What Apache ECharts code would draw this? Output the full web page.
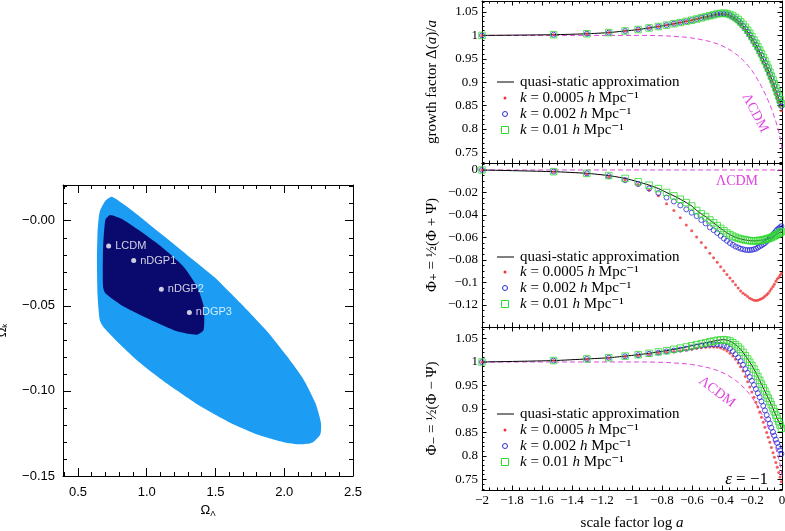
<!DOCTYPE html>
<html><head><meta charset="utf-8">
<script src="https://cdn.jsdelivr.net/npm/echarts@6/dist/echarts.min.js"></script>
<style>html,body{margin:0;padding:0;background:#fff}#c{width:785px;height:531px}</style>
</head><body><div id="c"></div><script>
const SERIF = '"Liberation Serif", "DejaVu Serif", serif';
const SANS = '"Liberation Sans", "DejaVu Sans", sans-serif';

// ---------- Left panel: confidence regions ----------
const outerOmegaL = [0.747,0.905,1.099,1.293,1.487,1.681,1.875,2.020,2.141,2.226,2.267,2.262,2.202,2.117,1.996,1.826,1.632,1.390,1.147,0.953,0.784,0.682,0.658,0.643,0.638,0.643,0.658,0.699];
const outerOmegaK = [0.0141,0.0053,-0.0074,-0.0201,-0.0328,-0.0484,-0.0650,-0.0797,-0.0934,-0.1070,-0.1188,-0.1256,-0.1305,-0.1314,-0.1301,-0.1262,-0.1197,-0.1090,-0.0957,-0.0836,-0.0709,-0.0621,-0.0582,-0.0445,-0.0250,-0.0055,0.0053,0.0117];
const innerOmegaL = [0.735,0.832,1.075,1.268,1.365,1.414,1.414,1.365,1.220,1.026,0.832,0.699,0.682,0.682,0.699];
const innerOmegaK = [0.0033,0.0004,-0.0133,-0.0270,-0.0387,-0.0504,-0.0641,-0.0670,-0.0650,-0.0582,-0.0504,-0.0426,-0.0387,-0.0172,0.0004];
const modelNames = ['LCDM','nDGP1','nDGP2','nDGP3'];
const modelOmegaL = [0.723,0.905,1.106,1.310];
const modelOmegaK = [-0.0148,-0.0234,-0.0402,-0.0539];
const leftXTicks = [0.5,1.0,1.5,2.0,2.5];
const leftXLabels = ['0.5','1.0','1.5','2.0','2.5'];
const leftYTicks = [-0.15,-0.10,-0.05,0.0];
const leftYLabels = ['\u22120.15','\u22120.10','\u22120.05','\u22120.00'];

// ---------- Right panels ----------
const logA = [-2,-1.523,-1.301,-1.155,-1.046,-0.959,-0.886,-0.824,-0.770,-0.721,-0.678,-0.638,-0.602,-0.569,-0.538,-0.509,-0.481,-0.456,-0.432,-0.409,-0.387,-0.367,-0.347,-0.328,-0.310,-0.292,-0.276,-0.260,-0.244,-0.229,-0.215,-0.201,-0.187,-0.174,-0.161,-0.149,-0.137,-0.125,-0.114,-0.102,-0.092,-0.081,-0.071,-0.060,-0.051,-0.041,-0.032,-0.022,-0.013,-0.004];
const lcdmLogA = logA.concat([0]);

const growthRed = [1.000,1.0015,1.0035,1.006,1.0095,1.0125,1.016,1.019,1.022,1.025,1.0275,1.030,1.0325,1.035,1.0375,1.039,1.041,1.043,1.0445,1.045,1.045,1.0435,1.041,1.037,1.033,1.028,1.023,1.017,1.011,1.0045,0.9975,0.990,0.9825,0.975,0.967,0.9595,0.9515,0.9435,0.9355,0.927,0.919,0.910,0.9015,0.8925,0.884,0.875,0.866,0.857,0.848,0.839];
const growthBlue = [1.000,1.0015,1.0035,1.006,1.0095,1.0125,1.016,1.019,1.022,1.025,1.0275,1.030,1.0325,1.035,1.0375,1.0395,1.0415,1.0435,1.0455,1.046,1.046,1.045,1.043,1.0395,1.0355,1.031,1.026,1.0205,1.0145,1.008,1.0015,0.9945,0.987,0.980,0.9725,0.965,0.9575,0.9495,0.942,0.934,0.926,0.9175,0.909,0.9005,0.892,0.8835,0.875,0.866,0.8575,0.849];
const growthGreen = [1.000,1.0015,1.0035,1.006,1.0095,1.0125,1.016,1.019,1.022,1.025,1.0275,1.030,1.0325,1.035,1.0375,1.040,1.042,1.044,1.046,1.047,1.0475,1.0465,1.0445,1.0415,1.038,1.034,1.029,1.0235,1.0175,1.011,1.0045,0.9975,0.990,0.983,0.976,0.9685,0.961,0.953,0.9455,0.9375,0.930,0.9215,0.913,0.905,0.8965,0.888,0.8795,0.871,0.8625,0.854];
const growthQuasiStatic = growthBlue;
const lcdmCurve = [1,1,1,1,1,1,1,0.9995,0.999,0.998,0.997,0.996,0.9945,0.993,0.991,0.989,0.987,0.9845,0.982,0.979,0.976,0.9725,0.969,0.965,0.961,0.9565,0.952,0.947,0.942,0.9365,0.931,0.925,0.9185,0.912,0.905,0.898,0.891,0.8835,0.876,0.868,0.8605,0.8525,0.844,0.835,0.826,0.8165,0.806,0.7945,0.782,0.768,0.755];

const phiPlusRed = [0,-0.0015,-0.0035,-0.006,-0.009,-0.013,-0.018,-0.023,-0.030,-0.036,-0.0425,-0.049,-0.054,-0.0595,-0.0645,-0.069,-0.074,-0.078,-0.082,-0.086,-0.0895,-0.093,-0.096,-0.099,-0.102,-0.105,-0.1075,-0.1095,-0.111,-0.1125,-0.114,-0.115,-0.1158,-0.116,-0.1158,-0.1152,-0.1145,-0.1135,-0.1122,-0.111,-0.1095,-0.1075,-0.1055,-0.1035,-0.1015,-0.099,-0.097,-0.0955,-0.0935,-0.092];
const phiPlusBlue = [0,-0.0015,-0.003,-0.0055,-0.009,-0.0125,-0.0165,-0.0205,-0.0245,-0.028,-0.0315,-0.035,-0.038,-0.041,-0.0445,-0.0475,-0.051,-0.0535,-0.056,-0.0585,-0.061,-0.063,-0.065,-0.0665,-0.068,-0.069,-0.070,-0.0705,-0.071,-0.0712,-0.0712,-0.071,-0.0705,-0.070,-0.069,-0.068,-0.067,-0.066,-0.065,-0.0635,-0.062,-0.0605,-0.059,-0.0575,-0.056,-0.0545,-0.053,-0.052,-0.051,-0.050];
const phiPlusGreen = [0,-0.0015,-0.003,-0.005,-0.0075,-0.0105,-0.0135,-0.0165,-0.020,-0.023,-0.026,-0.029,-0.032,-0.036,-0.039,-0.0415,-0.0445,-0.047,-0.0495,-0.052,-0.054,-0.056,-0.0575,-0.0588,-0.0598,-0.0607,-0.0613,-0.0618,-0.0622,-0.0626,-0.0628,-0.063,-0.063,-0.063,-0.0628,-0.0626,-0.0624,-0.0621,-0.0618,-0.0614,-0.061,-0.0605,-0.060,-0.0593,-0.0586,-0.0579,-0.0572,-0.0564,-0.0556,-0.0548];
const phiPlusQuasiStatic = phiPlusGreen;
const lcdmPhiPlusLogA = [-2, 0];
const lcdmPhiPlus = [0, 0];

const phiMinusRed = [1.000,1.003,1.006,1.0085,1.0115,1.014,1.0165,1.019,1.021,1.0225,1.024,1.0255,1.027,1.029,1.0305,1.0315,1.032,1.032,1.0315,1.030,1.027,1.0235,1.0185,1.0125,1.006,0.998,0.990,0.981,0.969,0.958,0.947,0.936,0.925,0.9145,0.904,0.893,0.8825,0.8715,0.861,0.850,0.840,0.829,0.818,0.807,0.797,0.786,0.776,0.765,0.755,0.745];
const phiMinusBlue = [1.000,1.003,1.0065,1.009,1.012,1.0145,1.0175,1.020,1.0225,1.0245,1.0265,1.0285,1.031,1.033,1.035,1.036,1.037,1.0375,1.0375,1.0365,1.035,1.0325,1.0285,1.023,1.0165,1.0095,1.002,0.994,0.985,0.977,0.968,0.960,0.951,0.9425,0.9335,0.925,0.916,0.9065,0.897,0.887,0.878,0.869,0.860,0.851,0.843,0.835,0.8275,0.8195,0.812,0.8045];
const phiMinusGreen = [1.000,1.003,1.0065,1.009,1.0125,1.0155,1.0185,1.0215,1.024,1.027,1.0295,1.032,1.0345,1.037,1.039,1.041,1.043,1.0445,1.046,1.047,1.0475,1.0465,1.0445,1.041,1.037,1.032,1.027,1.0205,1.0135,1.0065,0.9995,0.9925,0.985,0.977,0.969,0.961,0.953,0.945,0.938,0.930,0.923,0.916,0.909,0.901,0.894,0.887,0.880,0.873,0.866,0.859];
const phiMinusQuasiStatic = phiMinusGreen;

const rightXTicks = [-2,-1.8,-1.6,-1.4,-1.2,-1,-0.8,-0.6,-0.4,-0.2,0];
const rightXLabels = ['\u22122','\u22121.8','\u22121.6','\u22121.4','\u22121.2','\u22121','\u22120.8','\u22120.6','\u22120.4','\u22120.2','0'];
const growthTicks = [0.75,0.8,0.85,0.9,0.95,1,1.05];
const growthLabels = ['0.75','0.8','0.85','0.9','0.95','1','1.05'];
const phiPlusTicks = [-0.12,-0.1,-0.08,-0.06,-0.04,-0.02,0];
const phiPlusLabels = ['\u22120.12','\u22120.1','\u22120.08','\u22120.06','\u22120.04','\u22120.02','0'];
const legendNames = ['quasi-static approximation','k = 0.0005 h Mpc\u207B\u00B9','k = 0.002 h Mpc\u207B\u00B9','k = 0.01 h Mpc\u207B\u00B9'];
const legendRich = ['quasi-static approximation','{i|k} = 0.0005 {i|h} Mpc\u207B\u00B9','{i|k} = 0.002 {i|h} Mpc\u207B\u00B9','{i|k} = 0.01 {i|h} Mpc\u207B\u00B9'];

// ---------- helpers ----------
function steps(a, b, s) { const out = []; const n = Math.round((b - a) / s); for (let i = 0; i <= n; i++) out.push(+(a + i * s).toFixed(6)); return out; }
function labelFmt(ticks, labels) { return v => { const i = ticks.findIndex(t => Math.abs(t - v) < 1e-7); return i < 0 ? '' : labels[i]; }; }
function pairs(xs, ys) { return xs.map((x, i) => [x, ys[i]]); }

const xAxes = [], yAxes = [];
function axisSet(kind, grid, min, max, ticks, labels, minors, o) {
  const isX = kind === 'x';
  const pos = isX ? ['bottom', 'top'] : ['left', 'right'];
  const arr = isX ? xAxes : yAxes;
  const base = p => ({ type: 'value', gridIndex: grid, position: p, min: min, max: max, splitLine: {show: false}, splitArea: {show: false}, silent: true });
  const mainIdx = arr.length;
  pos.forEach((p, k) => {
    const major = Object.assign(base(p), {
      axisLine: {show: true, onZero: false, lineStyle: {color: '#000', width: 1}},
      axisTick: {show: true, inside: true, length: o.majorLen, customValues: ticks, lineStyle: {color: '#000', width: 1}},
      axisLabel: {show: k === 0 && o.showLabels, customValues: ticks, formatter: labelFmt(ticks, labels), fontFamily: o.font, fontSize: o.labelSize, color: '#000', margin: o.labelMargin, hideOverlap: false}
    });
    if (k === 0 && o.name) { major.name = o.name; major.nameLocation = 'middle'; major.nameGap = o.nameGap; major.nameTextStyle = o.nameStyle; }
    arr.push(major);
    arr.push(Object.assign(base(p), {
      axisLine: {show: false, onZero: false},
      axisTick: {show: true, inside: true, length: o.minorLen, customValues: minors, lineStyle: {color: '#000', width: 1}},
      axisLabel: {show: false}
    }));
  });
  return mainIdx;
}

const grids = [
  {left: 63, top: 185, width: 290, height: 291, outerBoundsMode: 'none', containLabel: false},
  {left: 482, top: 1, width: 300, height: 162, outerBoundsMode: 'none', containLabel: false},
  {left: 482, top: 163, width: 300, height: 164, outerBoundsMode: 'none', containLabel: false},
  {left: 482, top: 327, width: 300, height: 163, outerBoundsMode: 'none', containLabel: false}
];

const serifName = (sz) => ({fontFamily: SERIF, fontSize: sz, color: '#000', rich: {i: {fontFamily: SERIF, fontSize: sz, color: '#000', fontStyle: 'italic'}}});
const sansName = {fontFamily: SANS, fontSize: 13, color: '#000', rich: {s: {fontFamily: SANS, fontSize: 8, color: '#000', padding: [6, 0, 0, 0]}}};

// left panel axes
const lx = axisSet('x', 0, 0.391, 2.5, leftXTicks, leftXLabels, steps(0.4, 2.5, 0.1),
  {font: SANS, labelSize: 13, labelMargin: 10, majorLen: 8, minorLen: 4, showLabels: true, name: '\u03A9{s|\u039B}', nameGap: 27, nameStyle: sansName});
const ly = axisSet('y', 0, -0.15, 0.021, leftYTicks, leftYLabels, steps(-0.15, 0.02, 0.01),
  {font: SANS, labelSize: 13, labelMargin: 8, majorLen: 8, minorLen: 4, showLabels: true, name: '\u03A9{s|k}', nameGap: 54, nameStyle: sansName});

// right panels axes
const rOpts = (showLabels, name, gap, sz) => ({font: SERIF, labelSize: 13, labelMargin: 4, majorLen: 4.5, minorLen: 2.5, showLabels: showLabels, name: name, nameGap: gap, nameStyle: serifName(sz || 15)});
const rxMinor = steps(-2, 0, 0.05);
const x1 = axisSet('x', 1, -2, 0, rightXTicks, rightXLabels, rxMinor, rOpts(false));
const y1 = axisSet('y', 1, 0.7275, 1.0735, growthTicks, growthLabels, steps(0.73, 1.07, 0.01), rOpts(true, 'growth factor \u0394({i|a})/{i|a}', 42));
const x2 = axisSet('x', 2, -2, 0, rightXTicks, rightXLabels, rxMinor, rOpts(false));
const y2 = axisSet('y', 2, -0.1396, 0.0062, phiPlusTicks, phiPlusLabels, steps(-0.135, 0.005, 0.005), rOpts(true, '\u03A6\u208A = \u00BD(\u03A6 + \u03A8)', 42));
const x3 = axisSet('x', 3, -2, 0, rightXTicks, rightXLabels, rxMinor, rOpts(true, 'scale factor log {i|a}', 26));
const y3 = axisSet('y', 3, 0.7275, 1.0745, growthTicks, growthLabels, steps(0.73, 1.07, 0.01), rOpts(true, '\u03A6\u208B = \u00BD(\u03A6 \u2212 \u03A8)', 42));

// ---------- series ----------
const RED = '#ee3535', BLUE = '#2b2bd6', GREEN = '#2fd92f', MAG = '#e046e0';
const series = [];
series.push({
  type: 'custom', name: 'outer region', xAxisIndex: lx, yAxisIndex: ly, silent: true, z: 1,
  data: [[outerOmegaL[0], outerOmegaK[0]]],
  renderItem: (params, api) => ({type: 'polygon', shape: {points: outerOmegaL.map((x, i) => api.coord([x, outerOmegaK[i]])), smooth: 0.2}, style: {fill: '#1c9cf2'}})
});
series.push({
  type: 'custom', name: 'inner region', xAxisIndex: lx, yAxisIndex: ly, silent: true, z: 2,
  data: [[innerOmegaL[0], innerOmegaK[0]]],
  renderItem: (params, api) => ({type: 'polygon', shape: {points: innerOmegaL.map((x, i) => api.coord([x, innerOmegaK[i]])), smooth: 0.2}, style: {fill: '#0a0a6e'}})
});
series.push({
  type: 'scatter', name: 'models', xAxisIndex: lx, yAxisIndex: ly, z: 3, silent: true,
  symbol: 'circle', symbolSize: 5, itemStyle: {color: '#fff'},
  data: modelNames.map((n, i) => ({name: n, value: [modelOmegaL[i], modelOmegaK[i]]})),
  label: {show: true, position: 'right', distance: 4, formatter: '{b}', color: '#fff', fontFamily: SANS, fontSize: 11}
});

function panelSeries(xi, yi, quasi, red, blue, green, lcdmX, lcdmY) {
  series.push({type: 'line', name: '\u039BCDM', xAxisIndex: xi, yAxisIndex: yi, data: pairs(lcdmX, lcdmY), showSymbol: false, symbol: 'none', silent: true, z: 2, lineStyle: {color: MAG, width: 1, type: [5, 3]}});
  series.push({type: 'line', name: legendNames[0], xAxisIndex: xi, yAxisIndex: yi, data: pairs(logA, quasi), showSymbol: false, symbol: 'none', smooth: 0.2, silent: true, z: 3, lineStyle: {color: '#000', width: 1}});
  series.push({type: 'scatter', name: legendNames[1], xAxisIndex: xi, yAxisIndex: yi, data: pairs(logA, red), symbol: 'circle', symbolSize: 3, silent: true, z: 4, itemStyle: {color: RED}});
  series.push({type: 'scatter', name: legendNames[2], xAxisIndex: xi, yAxisIndex: yi, data: pairs(logA, blue), symbol: 'circle', symbolSize: 5, silent: true, z: 5, itemStyle: {color: 'rgba(0,0,0,0)', borderColor: BLUE, borderWidth: 1}});
  series.push({type: 'scatter', name: legendNames[3], xAxisIndex: xi, yAxisIndex: yi, data: pairs(logA, green), symbol: 'rect', symbolSize: 6.5, silent: true, z: 6, itemStyle: {color: 'rgba(0,0,0,0)', borderColor: GREEN, borderWidth: 1}});
}
panelSeries(x1, y1, growthQuasiStatic, growthRed, growthBlue, growthGreen, lcdmLogA, lcdmCurve);
panelSeries(x2, y2, phiPlusQuasiStatic, phiPlusRed, phiPlusBlue, phiPlusGreen, lcdmPhiPlusLogA, lcdmPhiPlus);
panelSeries(x3, y3, phiMinusQuasiStatic, phiMinusRed, phiMinusBlue, phiMinusGreen, lcdmLogA, lcdmCurve);

// ---------- legends & annotations ----------
const graphics = [];
const richI = {i: {fontStyle: 'italic', fontFamily: SERIF, fontSize: 15, fill: '#000'}};
[[82, 98, 114, 130], [257, 272, 288, 304], [414, 430, 446, 462]].forEach(ys => {
  graphics.push({type: 'line', shape: {x1: 497, y1: ys[0], x2: 514, y2: ys[0]}, style: {stroke: '#000', lineWidth: 1}});
  graphics.push({type: 'circle', shape: {cx: 505, cy: ys[1], r: 1.5}, style: {fill: RED}});
  graphics.push({type: 'circle', shape: {cx: 505, cy: ys[2], r: 2.5}, style: {fill: 'none', stroke: BLUE, lineWidth: 1}});
  graphics.push({type: 'rect', shape: {x: 501.5, y: ys[3] - 3.5, width: 7, height: 7}, style: {fill: 'none', stroke: GREEN, lineWidth: 1}});
  ys.forEach((y, k) => graphics.push({type: 'text', x: 520, y: y, style: {text: legendRich[k], fontFamily: SERIF, fontSize: 15, fill: '#000', align: 'left', verticalAlign: 'middle', rich: richI}}));
});
const magText = (x, y, rot) => ({type: 'text', x: x, y: y, rotation: rot, style: {text: '\u039BCDM', fontFamily: SERIF, fontSize: 14, fill: MAG, align: 'center', verticalAlign: 'middle'}});
graphics.push(magText(755, 113, -1.09));
graphics.push(magText(737, 181, 0));
graphics.push(magText(717, 392, -0.65));
graphics.push({type: 'text', x: 768, y: 480, style: {text: '{i|\u03B5} = \u22121', fontFamily: SERIF, fontSize: 17, fill: '#000', align: 'right', verticalAlign: 'middle', rich: {i: {fontStyle: 'italic', fontFamily: SERIF, fontSize: 17, fill: '#000'}}}});

const chart = echarts.init(document.getElementById('c'), null, {renderer: 'canvas'});
chart.setOption({
  animation: false,
  backgroundColor: '#fff',
  grid: grids,
  xAxis: xAxes,
  yAxis: yAxes,
  series: series,
  graphic: graphics
});
</script></body></html>
